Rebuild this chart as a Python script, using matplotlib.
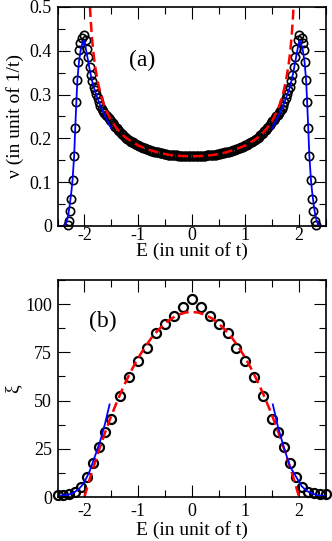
import numpy as np
import matplotlib
matplotlib.use("Agg")
import matplotlib.pyplot as plt
from matplotlib.ticker import MultipleLocator, FixedLocator

plt.rcParams['font.family'] = ['Liberation Serif', 'DejaVu Serif']
plt.rcParams['axes.unicode_minus'] = False

# ---------------- Panel (a) data ----------------
# dense numerical DOS, E from -2.0 to 2.0 step 0.025
E_a_mid = np.linspace(-2.0, 2.0, 161)
nu_a_mid = [
    0.436, 0.425, 0.405, 0.385, 0.362, 0.345, 0.330, 0.318, 0.310, 0.301,
    0.292, 0.283, 0.275, 0.268, 0.263, 0.258, 0.254, 0.250, 0.246, 0.243,
    0.240, 0.236, 0.231, 0.227, 0.223, 0.219, 0.216, 0.212, 0.209, 0.207,
    0.204, 0.201, 0.199, 0.197, 0.195, 0.192, 0.191, 0.189, 0.187, 0.185,
    0.184, 0.182, 0.181, 0.180, 0.178, 0.177, 0.176, 0.175, 0.174, 0.173,
    0.172, 0.171, 0.170, 0.169, 0.168, 0.168, 0.167, 0.166, 0.166, 0.165,
    0.164, 0.164, 0.163, 0.163, 0.162, 0.162, 0.162, 0.161, 0.161, 0.161,
    0.160, 0.160, 0.160, 0.160, 0.160, 0.160, 0.159, 0.159, 0.159, 0.159,
    0.159,
    0.159, 0.159, 0.159, 0.159, 0.160, 0.160, 0.160, 0.160, 0.160, 0.160,
    0.161, 0.161, 0.161, 0.162, 0.162, 0.162, 0.163, 0.163, 0.164, 0.164,
    0.165, 0.166, 0.166, 0.167, 0.168, 0.168, 0.169, 0.170, 0.171, 0.172,
    0.173, 0.174, 0.175, 0.176, 0.177, 0.178, 0.180, 0.181, 0.182, 0.184,
    0.185, 0.187, 0.189, 0.191, 0.192, 0.195, 0.197, 0.199, 0.201, 0.204,
    0.207, 0.209, 0.212, 0.216, 0.219, 0.223, 0.227, 0.231, 0.236, 0.240,
    0.243, 0.246, 0.250, 0.254, 0.258, 0.263, 0.268, 0.275, 0.283, 0.292,
    0.301, 0.310, 0.318, 0.330, 0.345, 0.362, 0.385, 0.405, 0.425, 0.436,
]
E_a_left = [-2.31, -2.29, -2.265, -2.245, -2.22, -2.19, -2.17, -2.15, -2.13, -2.115, -2.095, -2.075, -2.045]
nu_a_left = [0.002, 0.012, 0.035, 0.062, 0.105, 0.160, 0.223, 0.282, 0.333, 0.374, 0.402, 0.417, 0.430]
E_a_right = [2.045, 2.075, 2.095, 2.115, 2.13, 2.15, 2.17, 2.19, 2.22, 2.245, 2.265, 2.29, 2.31]
nu_a_right = [0.430, 0.417, 0.402, 0.374, 0.333, 0.282, 0.223, 0.160, 0.105, 0.062, 0.035, 0.012, 0.002]

# analytic (red dashed)
E_a_an = [-1.896, -1.88, -1.86, -1.84, -1.82, -1.80, -1.75, -1.70, -1.65, -1.60, -1.50, -1.40,
          -1.30, -1.20, -1.00, -0.80, -0.60, -0.40, -0.20, 0.00, 0.20, 0.40, 0.60, 0.80,
          1.00, 1.20, 1.30, 1.40, 1.50, 1.60, 1.65, 1.70, 1.75, 1.80, 1.82, 1.84, 1.86, 1.88, 1.896]
nu_a_an = [0.500, 0.4665, 0.433, 0.406, 0.384, 0.365, 0.329, 0.302, 0.282, 0.265, 0.241, 0.223,
           0.209, 0.199, 0.184, 0.174, 0.167, 0.162, 0.160, 0.159, 0.160, 0.162, 0.167, 0.174,
           0.184, 0.199, 0.209, 0.223, 0.241, 0.265, 0.282, 0.302, 0.329, 0.365, 0.384, 0.406, 0.433, 0.4665, 0.500]

# edge fits (blue)
E_a_fitL = [-2.45, -2.40, -2.36, -2.33, -2.30, -2.27, -2.24, -2.22, -2.19, -2.17, -2.15, -2.13, -2.10,
            -2.07, -2.04, -2.01, -1.98, -1.95, -1.92, -1.89, -1.86, -1.82, -1.78, -1.74, -1.70,
            -1.65, -1.60, -1.55, -1.50]
nu_a_fitL = [0.0, 0.0, 0.003, 0.010, 0.025, 0.050, 0.080, 0.105, 0.160, 0.223, 0.280, 0.333, 0.375,
             0.400, 0.415, 0.424, 0.410, 0.390, 0.370, 0.350, 0.333, 0.315, 0.300, 0.287, 0.274,
             0.260, 0.247, 0.235, 0.223]
E_a_fitR = [1.50, 1.55, 1.60, 1.65, 1.70, 1.74, 1.78, 1.82, 1.86, 1.89, 1.92, 1.95, 1.98, 2.01,
            2.04, 2.07, 2.10, 2.13, 2.15, 2.17, 2.19, 2.22, 2.24, 2.27, 2.30, 2.33, 2.36, 2.40, 2.45]
nu_a_fitR = [0.223, 0.235, 0.247, 0.260, 0.274, 0.287, 0.300, 0.315, 0.333, 0.350, 0.370, 0.390,
             0.410, 0.424, 0.415, 0.400, 0.375, 0.333, 0.280, 0.223, 0.160, 0.105, 0.080, 0.050,
             0.025, 0.010, 0.003, 0.0, 0.0]

# ---------------- Panel (b) data ----------------
E_b = [-2.5, -2.389, -2.278, -2.167, -2.056, -1.944, -1.833, -1.722, -1.611, -1.5,
       -1.333, -1.167, -1.0, -0.833, -0.667, -0.5, -0.333, -0.167, 0.0,
       0.167, 0.333, 0.5, 0.667, 0.833, 1.0, 1.167, 1.333,
       1.5, 1.611, 1.722, 1.833, 1.944, 2.056, 2.167, 2.278, 2.389, 2.5]
xi_b = [1.0, 1.0, 1.6, 2.8, 5.4, 10.6, 17.5, 25.7, 33.9, 40.5,
        52.3, 62.1, 70.5, 77.1, 85.2, 89.9, 93.9, 98.6, 102.6,
        98.6, 93.9, 89.9, 85.2, 77.1, 70.5, 62.1, 52.3,
        40.5, 33.9, 25.7, 17.5, 10.6, 5.4, 2.8, 1.9, 1.5, 1.5]

E_b_an = [-2.0, -1.875, -1.75, -1.625, -1.5, -1.375, -1.25, -1.125, -1.0, -0.875, -0.75, -0.625,
          -0.5, -0.375, -0.25, -0.125, 0.0, 0.125, 0.25, 0.375, 0.5, 0.625, 0.75, 0.875, 1.0,
          1.125, 1.25, 1.375, 1.5, 1.625, 1.75, 1.875, 2.0]
xi_b_an = [0.0, 11.6, 22.5, 32.6, 42.0, 50.6, 58.5, 65.6, 72.0, 77.6, 82.5, 86.6,
           90.0, 92.6, 94.5, 95.6, 96.0, 95.6, 94.5, 92.6, 90.0, 86.6, 82.5, 77.6, 72.0,
           65.6, 58.5, 50.6, 42.0, 32.6, 22.5, 11.6, 0.0]

E_b_fitL = [-2.5, -2.4, -2.3, -2.2, -2.1, -2.03, -1.96, -1.9, -1.83, -1.76, -1.7, -1.62, -1.53]
xi_b_fitL = [0.5, 0.8, 1.2, 2.2, 4.2, 6.5, 10.0, 13.5, 19.0, 24.5, 29.5, 37.5, 48.0]
E_b_fitR = [1.51, 1.6, 1.71, 1.83, 1.96, 2.05, 2.15, 2.25, 2.33, 2.42, 2.5]
xi_b_fitR = [48.0, 37.0, 26.2, 15.8, 9.7, 5.5, 3.0, 1.8, 1.0, 0.7, 0.5]

# ---------------- Figure ----------------
fig = plt.figure(figsize=(3.32, 5.41), dpi=100)
ax1 = fig.add_axes([0.1732, 0.5823, 0.8087, 0.4048])
ax2 = fig.add_axes([0.1732, 0.0813, 0.8087, 0.4011])

RED = '#ff0000'
BLUE = '#0000ff'

def style(ax, xpad):
    for s in ax.spines.values():
        s.set_linewidth(1.2)
    ax.tick_params(which='both', direction='in', top=True, right=True, labelsize=13)
    ax.tick_params(axis='y', pad=4)
    ax.tick_params(axis='x', pad=xpad)
    ax.tick_params(which='major', length=8.5, width=0.8)
    ax.tick_params(which='minor', length=5, width=0.8)

# panel (a)
circ_a = dict(ls='none', marker='o', ms=6, mfc='none', mec='black', mew=1.2, clip_on=False)
ax1.plot(E_a_mid, nu_a_mid, **circ_a)
ax1.plot(E_a_left, nu_a_left, **circ_a)
ax1.plot(E_a_right, nu_a_right, **circ_a)
ax1.plot(E_a_an, nu_a_an, color=RED, lw=1.8, dashes=[4, 2])
ax1.plot(E_a_fitL, nu_a_fitL, color=BLUE, lw=1.3)
ax1.plot(E_a_fitR, nu_a_fitR, color=BLUE, lw=1.3)
ax1.set_xlim(-2.5, 2.5)
ax1.set_ylim(0, 0.5)
ax1.xaxis.set_major_locator(FixedLocator([-2, -1, 0, 1, 2]))
ax1.xaxis.set_minor_locator(MultipleLocator(0.5))
ax1.yaxis.set_major_locator(FixedLocator([0, 0.1, 0.2, 0.3, 0.4, 0.5]))
ax1.yaxis.set_minor_locator(MultipleLocator(0.05))
ax1.set_xticklabels(['-2', '-1', '0', '1', '2'])
ax1.set_yticklabels(['0', '0.1', '0.2', '0.3', '0.4', '0.5'])
style(ax1, 0.5)
ax1.set_xlabel('E (in unit of t)', fontsize=14, labelpad=-1)
ax1.set_ylabel('ν (in unit of 1/t)', fontsize=14)
ax1.yaxis.set_label_coords(-0.125, 0.5)
ax1.text(-0.92, 0.378, '(a)', fontsize=17, ha='center', va='center')

# panel (b)
circ_b = dict(ls='none', marker='o', ms=6.5, mfc='none', mec='black', mew=1.6, clip_on=False)
ax2.plot(E_b, xi_b, **circ_b)
ax2.plot(E_b_an, xi_b_an, color=RED, lw=1.8, dashes=[4, 2])
ax2.plot(E_b_fitL, xi_b_fitL, color=BLUE, lw=1.3)
ax2.plot(E_b_fitR, xi_b_fitR, color=BLUE, lw=1.3)
ax2.set_xlim(-2.5, 2.5)
ax2.set_ylim(0, 112.5)
ax2.xaxis.set_major_locator(FixedLocator([-2, -1, 0, 1, 2]))
ax2.xaxis.set_minor_locator(MultipleLocator(0.5))
ax2.yaxis.set_major_locator(FixedLocator([0, 25, 50, 75, 100]))
ax2.yaxis.set_minor_locator(MultipleLocator(12.5))
ax2.set_xticklabels(['-2', '-1', '0', '1', '2'])
ax2.set_yticklabels(['0', '25', '50', '75', '100'])
style(ax2, 4)
ax2.set_xlabel('E (in unit of t)', fontsize=14, labelpad=1)
ax2.set_ylabel('ξ', fontsize=14)
ax2.yaxis.set_label_coords(-0.135, 0.5)
ax2.text(-1.66, 91, '(b)', fontsize=17, ha='center', va='center')

fig.savefig('out.png', dpi=100)
